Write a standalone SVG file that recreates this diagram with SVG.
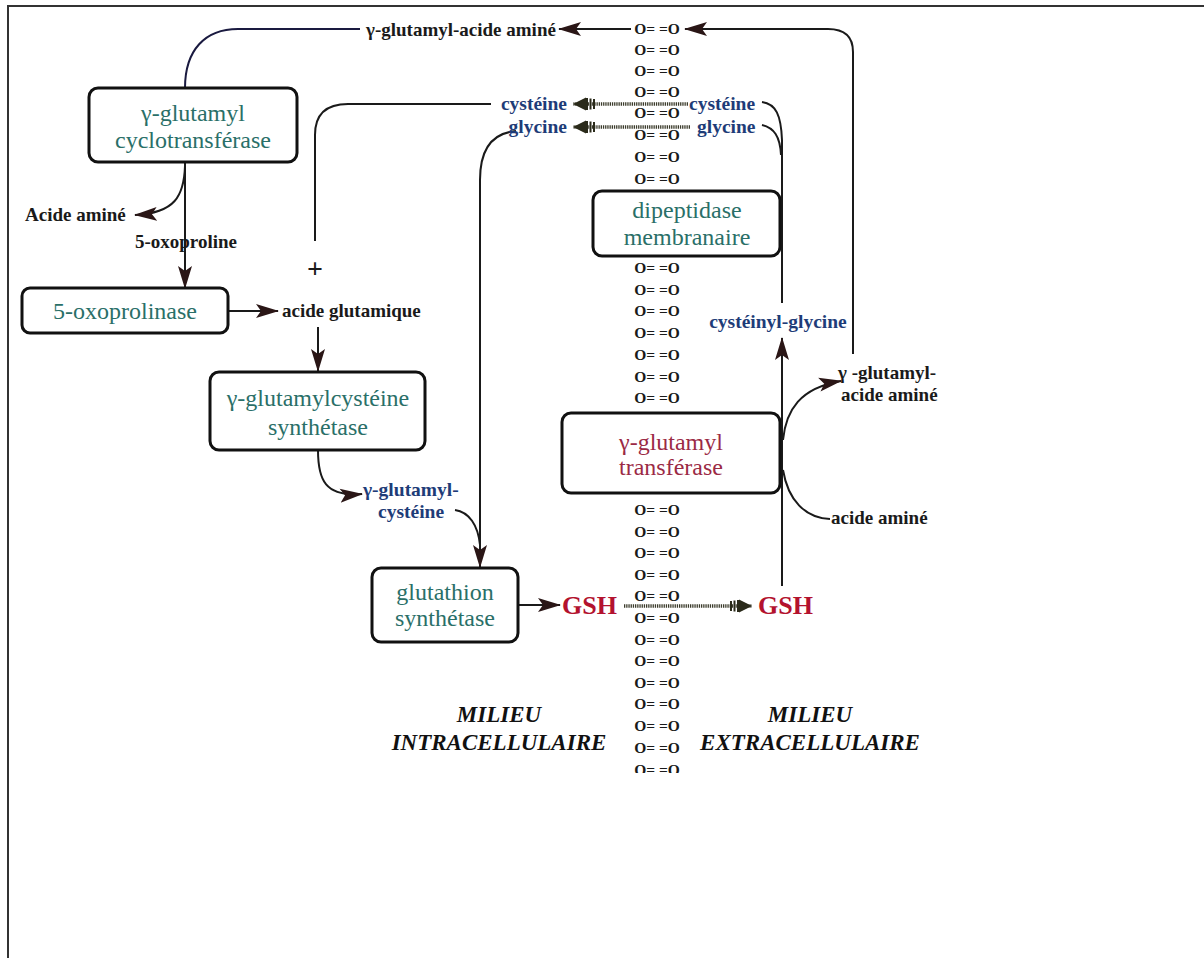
<svg xmlns="http://www.w3.org/2000/svg" width="1204" height="958" viewBox="0 0 1204 958">
<style>
.box{fill:#fff;stroke:#111;stroke-width:3}
.enz{font-family:"Liberation Serif","Times New Roman",serif;font-size:24px;fill:#2a6f68;text-anchor:middle}
.lbl{font-family:"Liberation Serif","Times New Roman",serif;font-size:19px;font-weight:bold;fill:#1a1a1a}
.blu{font-family:"Liberation Serif","Times New Roman",serif;font-size:19.5px;font-weight:bold;fill:#1e3c78}
.gsh{font-family:"Liberation Serif","Times New Roman",serif;font-size:26px;font-weight:bold;fill:#b3122e}
.mil{font-family:"Liberation Serif","Times New Roman",serif;font-size:23px;font-weight:bold;font-style:italic;fill:#111;text-anchor:middle}
.mem{font-family:"Liberation Serif","Times New Roman",serif;font-size:15.5px;font-weight:bold;fill:#1a1a1a;text-anchor:middle}
.ln{fill:none;stroke:#1a1a1a;stroke-width:2}
.arr{fill:none;stroke:#1a1a1a;stroke-width:2;marker-end:url(#ah)}
.hat{fill:none;stroke:#3b3b2b;stroke-width:3.5;stroke-dasharray:1.3 0.9;marker-end:url(#hh)}
</style>
<defs>
<marker id="ah" viewBox="0 0 23 15" refX="22" refY="7.5" markerWidth="23" markerHeight="15" markerUnits="userSpaceOnUse" orient="auto">
<path d="M0,0.5 L23,7.5 L0,14.5 L5,7.5 Z" fill="#2a1616"/>
</marker>
<marker id="hh" viewBox="0 0 24 14" refX="24" refY="7" markerWidth="24" markerHeight="14" markerUnits="userSpaceOnUse" orient="auto">
<rect x="2" y="2" width="2" height="10" fill="#2a2a1a"/>
<rect x="5.5" y="1.5" width="2" height="11" fill="#2a2a1a"/>
<rect x="9" y="1" width="2" height="12" fill="#2a2a1a"/>
<path d="M11,0.5 L24,7 L11,13.5 Z" fill="#2a2a1a"/>
</marker>
<clipPath id="memclip"><rect x="600" y="0" width="120" height="773"/></clipPath>
</defs>
<rect x="0" y="0" width="1204" height="958" fill="#fff"/>
<path d="M8,958 V6 H1204" fill="none" stroke="#333" stroke-width="2"/>

<g id="membrane" clip-path="url(#memclip)">
<text class="mem" x="657" y="34">O= =O</text>
<text class="mem" x="657" y="55">O= =O</text>
<text class="mem" x="657" y="76">O= =O</text>
<text class="mem" x="657" y="97">O= =O</text>
<text class="mem" x="657" y="118">O= =O</text>
<text class="mem" x="657" y="140">O= =O</text>
<text class="mem" x="657" y="162">O= =O</text>
<text class="mem" x="657" y="184">O= =O</text>
<text class="mem" x="657" y="273">O= =O</text>
<text class="mem" x="657" y="295">O= =O</text>
<text class="mem" x="657" y="316">O= =O</text>
<text class="mem" x="657" y="338">O= =O</text>
<text class="mem" x="657" y="360">O= =O</text>
<text class="mem" x="657" y="382">O= =O</text>
<text class="mem" x="657" y="403">O= =O</text>
<text class="mem" x="657" y="515">O= =O</text>
<text class="mem" x="657" y="537">O= =O</text>
<text class="mem" x="657" y="558">O= =O</text>
<text class="mem" x="657" y="580">O= =O</text>
<text class="mem" x="657" y="601">O= =O</text>
<text class="mem" x="657" y="623">O= =O</text>
<text class="mem" x="657" y="645">O= =O</text>
<text class="mem" x="657" y="666">O= =O</text>
<text class="mem" x="657" y="688">O= =O</text>
<text class="mem" x="657" y="709">O= =O</text>
<text class="mem" x="657" y="731">O= =O</text>
<text class="mem" x="657" y="753">O= =O</text>
<text class="mem" x="657" y="775">O= =O</text>
</g>

<g id="connectors">
<path class="ln" d="M360,29 H238 C205,29 185,50 185,88" style="stroke:#1a1a40"/>
<path class="arr" d="M631,29 H559"/>
<path class="arr" d="M853,354 V52 Q853,29 828,29 H685"/>
<path class="arr" d="M185,162 V288"/>
<path class="arr" d="M185,166 C184,196 175,213 135,215"/>
<path class="arr" d="M228,311 H278"/>
<path class="arr" d="M318,327 V371"/>
<path class="ln" d="M315,241 V135 Q315,104 348,104 H491"/>
<path class="arr" d="M318,450 C318,480 325,497 362,494"/>
<path class="ln" d="M455,510 C469,512 478,525 480,545"/>
<path class="arr" d="M516,131 C492,133 480,150 480,180 V567"/>
<path class="arr" d="M518,605 H560"/>
<path class="hat" d="M624,606 H752"/>
<path class="arr" d="M782,586 V338"/>
<path class="ln" d="M762,102 C776,104 781,115 782,140 V303"/>
<path class="ln" d="M762,125 C774,128 780,136 781,155"/>
<path class="hat" d="M688,104 H573"/>
<path class="hat" d="M690,127 H573"/>
<path class="arr" d="M783,440 C786,410 800,388 841,381"/>
<path class="ln" d="M783,470 C788,500 805,518 830,519"/>
</g>

<g id="n-cyclotransferase">
<rect class="box" x="89" y="88" width="208" height="74" rx="9"/>
<text class="enz" x="193" y="121">γ-glutamyl</text>
<text class="enz" x="193" y="148">cyclotransférase</text>
</g>
<g id="n-oxoprolinase">
<rect class="box" x="22" y="288" width="206" height="45" rx="8"/>
<text class="enz" x="125" y="319">5-oxoprolinase</text>
</g>
<g id="n-gcs">
<rect class="box" x="210" y="372" width="215" height="78" rx="9"/>
<text class="enz" x="318" y="406">γ-glutamylcystéine</text>
<text class="enz" x="318" y="435">synthétase</text>
</g>
<g id="n-gs">
<rect class="box" x="372" y="568" width="146" height="74" rx="9"/>
<text class="enz" x="445" y="600">glutathion</text>
<text class="enz" x="445" y="626">synthétase</text>
</g>
<g id="n-dipeptidase">
<rect class="box" x="593" y="191" width="187" height="65" rx="9"/>
<text class="enz" x="687" y="218">dipeptidase</text>
<text class="enz" x="687" y="245">membranaire</text>
</g>
<g id="n-ggt">
<rect class="box" x="562" y="413" width="218" height="80" rx="9"/>
<text class="enz" x="671" y="450" style="fill:#9b2a45">γ-glutamyl</text>
<text class="enz" x="671" y="475" style="fill:#9b2a45">transférase</text>
</g>

<g id="labels">
<text class="lbl" x="366" y="36">γ-glutamyl-acide aminé</text>
<text class="lbl" x="25" y="221">Acide aminé</text>
<text class="lbl" x="186" y="248" text-anchor="middle">5-oxoproline</text>
<text class="lbl" x="282" y="317">acide glutamique</text>
<text x="315" y="278" text-anchor="middle" style="font-family:'Liberation Serif',serif;font-size:28px;font-weight:bold;fill:#1a1a1a">+</text>
<text class="blu" x="567" y="110" text-anchor="end">cystéine</text>
<text class="blu" x="567" y="133" text-anchor="end">glycine</text>
<text class="blu" x="689" y="110">cystéine</text>
<text class="blu" x="697" y="133">glycine</text>
<text class="blu" x="778" y="328" text-anchor="middle">cystéinyl-glycine</text>
<text class="lbl" x="838" y="379">γ -glutamyl-</text>
<text class="lbl" x="841" y="401">acide aminé</text>
<text class="lbl" x="831" y="524">acide aminé</text>
<text class="blu" x="363" y="496">γ-glutamyl-</text>
<text class="blu" x="378" y="518">cystéine</text>
<text class="gsh" x="562" y="614">GSH</text>
<text class="gsh" x="758" y="614">GSH</text>
<text class="mil" x="499" y="722">MILIEU</text>
<text class="mil" x="499" y="750">INTRACELLULAIRE</text>
<text class="mil" x="810" y="722">MILIEU</text>
<text class="mil" x="810" y="750">EXTRACELLULAIRE</text>
</g>
</svg>
